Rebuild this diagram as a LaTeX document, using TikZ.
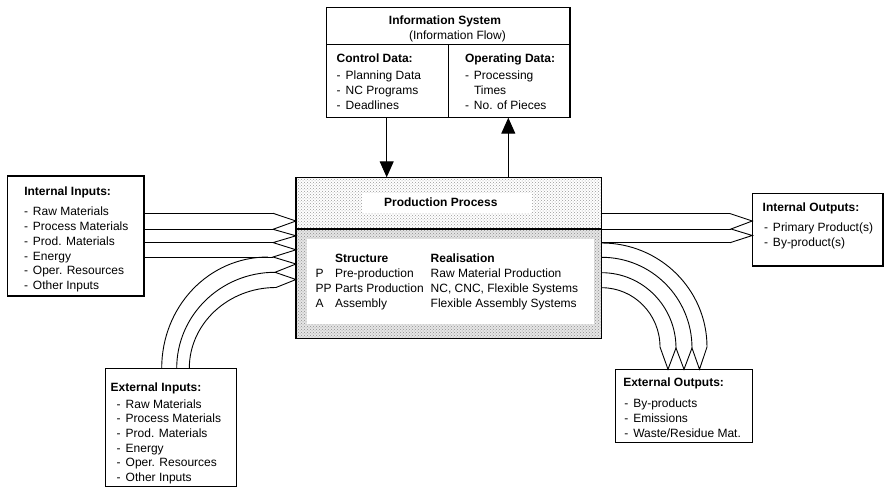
\documentclass[tikz,border=0pt]{standalone}
\usepackage{fontspec}
\setmainfont{Liberation Sans}
\usetikzlibrary{arrows.meta,patterns}
\newcommand{\itm}[1]{\makebox[9pt][l]{-}#1}
\begin{document}
\begin{tikzpicture}[x=1pt,y=-1pt,
  every node/.style={inner sep=0pt, outer sep=0pt, font=\fontsize{12}{14.8}\selectfont},
  txt/.style={anchor=base west},
  ttl/.style={anchor=base west, font=\fontsize{12}{14.8}\selectfont\bfseries},
  box/.style={draw, line width=1.2pt, rectangle},
  flow/.style={line width=0.9pt, line join=miter},
  info arrow/.style={line width=1pt, -{Triangle[length=16pt,width=14pt]}},
]
\useasboundingbox (0,0) rectangle (884,487);

% ---------- production process fills ----------
\fill[white] (296,177.3) rectangle (601.7,338.3);
\fill[pattern=crosshatch dots, pattern color=black!40] (296,177.3) rectangle (601.7,229);
\fill[black!10] (296,229) rectangle (601.7,338.3);
\fill[pattern=crosshatch dots, pattern color=black!45] (296,229) rectangle (601.7,338.3);
\fill[white] (361.7,193.3) rectangle (531.7,213.3);
\fill[white] (306.5,238.5) rectangle (593.5,324);

% ---------- boxes ----------
\node[box, minimum width=243.3pt, minimum height=110.4pt] (info) at (448.35,62.5) {};
\node[box, minimum width=305.7pt, minimum height=161pt] (prod) at (448.85,257.8) {};
\node[box, minimum width=136.7pt, minimum height=120pt] (iin) at (75.65,236) {};
\node[box, minimum width=131pt, minimum height=118pt] (ein) at (171.2,427.3) {};
\node[box, minimum width=130.7pt, minimum height=72.7pt] (iout) at (817.65,229.65) {};
\node[box, minimum width=136.6pt, minimum height=73.4pt] (eout) at (684,406) {};

\draw[line width=1.2pt] (326.7,44.3) -- (570,44.3);
\draw[line width=1.2pt] (448.3,44.3) -- (448.3,117.7);
\draw[line width=2pt] (296,229) -- (601.7,229);

% ---------- information system text ----------
\node[ttl, anchor=base] (isT) at (445,25) {Information System};
\node[txt, anchor=base] (isS) at (457.5,39.3) {(Information Flow)};
\node[ttl] (cdT) at (336.7,62.6) {Control Data:};
\foreach \t [count=\i] in {Planning Data, NC Programs, Deadlines}
  \node[txt] (cd-\i) at (336.7,65.3+14.7*\i) {\itm{\t}};
\node[ttl] (odT) at (465,62.6) {Operating Data:};
\node[txt] (od-1) at (465,80) {\itm{Processing}};
\node[txt] (od-2) at (465,94.3) {\makebox[9pt][l]{}Times};
\node[txt] (od-3) at (465,109.6) {\itm{No. of Pieces}};

% ---------- production text ----------
\node[ttl, anchor=base] (ppT) at (440.8,206) {Production Process};
\node[ttl] (sH) at (335,262.6) {Structure};
\node[ttl] (rH) at (430.7,262.6) {Realisation};
\node[txt] (pP) at (315.7,277.6) {P};
\node[txt] (pPP) at (315.7,292.6) {PP};
\node[txt] (pA) at (315.7,307.6) {A};
\node[txt] (s-1) at (335,277.6) {Pre-production};
\node[txt] (s-2) at (335,292.6) {Parts Production};
\node[txt] (s-3) at (335,307.6) {Assembly};
\node[txt] (r-1) at (430.7,277.6) {Raw Material Production};
\node[txt] (r-2) at (430.7,292.6) {NC, CNC, Flexible Systems};
\node[txt] (r-3) at (430.7,307.6) {Flexible Assembly Systems};

% ---------- internal inputs ----------
\node[ttl] (iinT) at (24.3,195) {Internal Inputs:};
\foreach \t [count=\i] in {Raw Materials, Process Materials, Prod. Materials, Energy, Oper. Resources, Other Inputs}
  \node[txt] (iin-\i) at (24,200.4+14.9*\i) {\itm{\t}};

% ---------- external inputs ----------
\node[ttl] (einT) at (110.7,391) {External Inputs:};
\foreach \t [count=\i] in {Raw Materials, Process Materials, Prod. Materials, Energy, Oper. Resources, Other Inputs}
  \node[txt] (ein-\i) at (116.7,393.8+14.55*\i) {\itm{\t}};

% ---------- internal outputs ----------
\node[ttl] (ioutT) at (762.7,211) {Internal Outputs:};
\node[txt] (iout-1) at (764,231) {\itm{Primary Product(s)}};
\node[txt] (iout-2) at (764,246) {\itm{By-product(s)}};

% ---------- external outputs ----------
\node[ttl] (eoutT) at (623.3,386) {External Outputs:};
\foreach \t [count=\i] in {By-products, Emissions, Waste/Residue Mat.}
  \node[txt] (eout-\i) at (624.3,392.6+15*\i) {\itm{\t}};

% ---------- information arrows ----------
\coordinate (dA) at (386.7,0);
\coordinate (uA) at (508.3,0);
\draw[info arrow] (info.south -| dA) -- (prod.north -| dA);
\draw[info arrow] (prod.north -| uA) -- (info.south -| uA);

% ---------- internal input arrows ----------
\foreach \y in {213.3,229.3,242.6,257}
  \draw[flow] (iin.east |- 0,\y) -- (273,\y);
\draw[flow] (273,213.3) -- (296,221) -- (273,229.3) -- (296,235.8) -- (273,242.6)
  -- (296,249.8) -- (273,257) -- (296,264) -- (275,272.3) -- (296,279.5) -- (276,287.5);

% ---------- external input arrows ----------
\draw[flow] (161.7,368.3) .. controls (161.7,306.8) and (208.4,257) .. (268,257);
\draw[flow] (176.7,368.3) .. controls (176.7,315.3) and (220.7,272.3) .. (275,272.3);
\draw[flow] (189.3,368.3) .. controls (189.3,323.7) and (228.1,287.5) .. (276,287.5);

% ---------- internal output arrows ----------
\foreach \y/\e in {213.6/730,229/731,242.7/730}
  \draw[flow] (prod.east |- 0,\y) -- (\e,\y);
\draw[flow] (730,213.6) -- (752.3,221) -- (731,229) -- (752.3,235.5) -- (730,242.7);

% ---------- external output arrows ----------
\draw[flow] (601.7,243) .. controls (659.9,243) and (707,289.6) .. (707,347);
\draw[flow] (601.7,257.3) .. controls (651.6,257.3) and (692,297.9) .. (692,348);
\draw[flow] (601.7,272.7) .. controls (642.7,272.7) and (676,306.4) .. (676,348);
\draw[flow] (601.7,287.7) .. controls (633.9,287.7) and (660,314.2) .. (660,347);
\draw[flow] (660,347) -- (668,369.3) -- (676,348) -- (684,369.3) -- (692,348)
  -- (699.5,369.3) -- (707,347);
\end{tikzpicture}
\end{document}
